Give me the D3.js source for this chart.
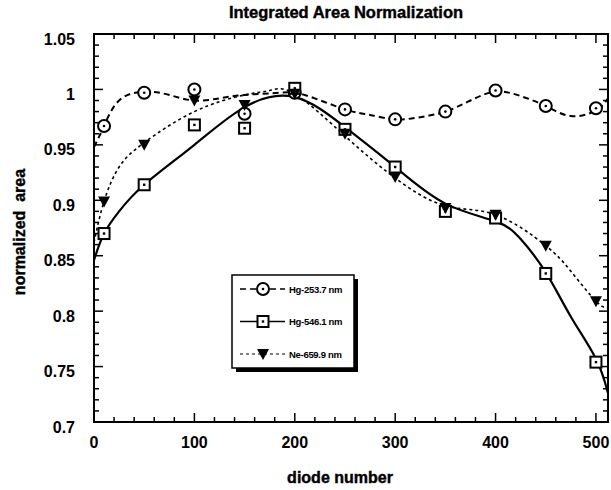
<!DOCTYPE html>
<html lang="en">
<head>
<meta charset="utf-8">
<title>Integrated Area Normalization</title>
<script src="https://d3js.org/d3.v7.min.js"></script>
<style>
  body { margin: 0; background: #fff; }
  text { font-family: "Liberation Sans", Arial, sans-serif; font-weight: bold; fill: #000; }
</style>
</head>
<body>
<div id="chart"></div>
<script>
// measured points
const diode = [10, 50, 100, 150, 200, 250, 300, 350, 400, 450, 500];
const hg253 = [0.967, 0.997, 1.000, 0.978, 0.997, 0.982, 0.973, 0.980, 0.999, 0.985, 0.983];
const hg546 = [0.870, 0.914, 0.968, 0.965, 1.001, 0.964, 0.930, 0.890, 0.884, 0.834, 0.754];
const ne659 = [0.899, 0.950, 0.990, 0.986, 0.996, 0.960, 0.921, 0.893, 0.887, 0.859, 0.809];

// fitted curves
const fit253X = [0, 10, 25, 50, 75, 100, 125, 150, 185, 210, 250, 275, 300, 325, 350, 375, 400, 425, 450, 475, 500, 512];
const fit253Y = [0.948, 0.967, 0.990, 0.998, 0.995, 0.990, 0.992, 0.995, 0.997, 0.995, 0.982, 0.977, 0.973, 0.975, 0.980, 0.990, 0.998, 0.994, 0.985, 0.976, 0.981, 0.992];
const fit546X = [0, 10, 25, 50, 100, 150, 200, 250, 300, 350, 400, 425, 450, 475, 500, 512];
const fit546Y = [0.846, 0.870, 0.890, 0.914, 0.950, 0.984, 0.993, 0.966, 0.930, 0.897, 0.881, 0.865, 0.835, 0.795, 0.757, 0.726];
const fit659X = [0, 10, 25, 50, 100, 150, 175, 200, 250, 300, 350, 400, 450, 475, 500, 512];
const fit659Y = [0.862, 0.899, 0.930, 0.952, 0.980, 0.995, 0.999, 0.996, 0.958, 0.920, 0.895, 0.887, 0.859, 0.836, 0.809, 0.803];

const seriesNames = ["Hg-253.7 nm", "Hg-546.1 nm", "Ne-659.9 nm"];
const xTicks = [0, 100, 200, 300, 400, 500];
const yTicks = [0.7, 0.75, 0.8, 0.85, 0.9, 0.95, 1, 1.05];

const W = 611, H = 490;
const margin = {top: 34, right: 3, bottom: 68, left: 94};
const width = W - margin.left - margin.right,
      height = H - margin.top - margin.bottom;

const svg = d3.select("#chart").append("svg")
    .attr("width", W).attr("height", H);

const g = svg.append("g")
    .attr("transform", `translate(${margin.left},${margin.top})`);

const x = d3.scaleLinear().domain([0, 512]).range([0, width]);
const y = d3.scaleLinear().domain([0.7, 1.05]).range([height, 0]);

// ticks inward, all four sides
const xMinor = d3.range(0, 513, 20);
const yMinor = d3.range(70, 106).map(d => d / 100);

function xTickLen(d) { return d % 100 === 0 ? 9 : 5; }
function yTickLen(d) { return Math.round(d * 100) % 5 === 0 ? 9 : 5; }

g.selectAll(".xt").data(xMinor).join("line")
    .attr("x1", d => x(d)).attr("x2", d => x(d))
    .attr("y1", height).attr("y2", d => height - xTickLen(d))
    .attr("stroke", "#000").attr("stroke-width", 1.5);
g.selectAll(".xtt").data(xMinor).join("line")
    .attr("x1", d => x(d)).attr("x2", d => x(d))
    .attr("y1", 0).attr("y2", d => xTickLen(d))
    .attr("stroke", "#000").attr("stroke-width", 1.5);
g.selectAll(".yt").data(yMinor).join("line")
    .attr("y1", d => y(d)).attr("y2", d => y(d))
    .attr("x1", 0).attr("x2", d => yTickLen(d))
    .attr("stroke", "#000").attr("stroke-width", 1.5);
g.selectAll(".ytr").data(yMinor).join("line")
    .attr("y1", d => y(d)).attr("y2", d => y(d))
    .attr("x1", width).attr("x2", d => width - yTickLen(d))
    .attr("stroke", "#000").attr("stroke-width", 1.5);

// tick labels
g.selectAll(".xl").data(xTicks).join("text")
    .attr("x", d => x(d)).attr("y", height + 26)
    .attr("text-anchor", "middle").attr("font-size", 16)
    .text(d => d);
g.selectAll(".yl").data(yTicks).join("text")
    .attr("x", -19).attr("y", d => y(d) + 10.5)
    .attr("text-anchor", "end").attr("font-size", 16)
    .text(d => d);

// frame
g.append("rect").attr("width", width).attr("height", height)
    .attr("fill", "none").attr("stroke", "#000").attr("stroke-width", 2);

// curves
const line = d3.line().x(d => x(d[0])).y(d => y(d[1])).curve(d3.curveNatural);
const styles = [
  {dash: "6,4", w: 2},
  {dash: null, w: 2.2},
  {dash: "3,3", w: 1.6}
];
const fits = [d3.zip(fit253X, fit253Y), d3.zip(fit546X, fit546Y), d3.zip(fit659X, fit659Y)];

svg.append("clipPath").attr("id", "clip").append("rect")
    .attr("width", width).attr("height", height);

fits.forEach((f, i) => {
  g.append("path").datum(f)
      .attr("clip-path", "url(#clip)")
      .attr("d", line)
      .attr("fill", "none").attr("stroke", "#000")
      .attr("stroke-width", styles[i].w)
      .attr("stroke-dasharray", styles[i].dash);
});

// markers
function circleMark(sel, cx, cy) {
  sel.append("circle").attr("cx", cx).attr("cy", cy).attr("r", 6)
      .attr("fill", "#fff").attr("stroke", "#000").attr("stroke-width", 2);
  sel.append("circle").attr("cx", cx).attr("cy", cy).attr("r", 1.3).attr("fill", "#000");
}
function squareMark(sel, cx, cy) {
  sel.append("rect").attr("x", cx - 5.5).attr("y", cy - 5.5).attr("width", 11).attr("height", 11)
      .attr("fill", "#fff").attr("stroke", "#000").attr("stroke-width", 2);
  sel.append("rect").attr("x", cx - 1.2).attr("y", cy - 1.2).attr("width", 2.4).attr("height", 2.4).attr("fill", "#000");
}
function triMark(sel, cx, cy) {
  sel.append("path")
      .attr("d", `M${cx - 6},${cy - 5}L${cx + 6},${cy - 5}L${cx},${cy + 6}Z`)
      .attr("fill", "#000");
}
const markFns = [circleMark, squareMark, triMark];
const values = [hg253, hg546, ne659];

values.forEach((vals, i) => {
  const mg = g.append("g");
  diode.forEach((d, j) => markFns[i](mg, x(d), y(vals[j])));
});

// legend
const lg = svg.append("g").attr("transform", "translate(232,275)");
lg.append("rect").attr("x", 4).attr("y", 4).attr("width", 122).attr("height", 93).attr("fill", "#000");
lg.append("rect").attr("width", 122).attr("height", 93)
    .attr("fill", "#fff").attr("stroke", "#000").attr("stroke-width", 1.5);
seriesNames.forEach((name, i) => {
  const ry = 14 + i * 32.5;
  lg.append("line").attr("x1", 8).attr("x2", 53).attr("y1", ry).attr("y2", ry)
      .attr("stroke", "#000").attr("stroke-width", styles[i].w * 0.75)
      .attr("stroke-dasharray", styles[i].dash);
  markFns[i](lg, 31, ry);
  lg.append("text").attr("x", 57).attr("y", ry + 3.5)
      .attr("font-size", 9.5).attr("letter-spacing", -0.3).text(name);
});

// titles
svg.append("text").attr("x", 346).attr("y", 18)
    .attr("text-anchor", "middle").attr("font-size", 16.5)
    .attr("stroke", "#000").attr("stroke-width", 0.4)
    .text("Integrated Area Normalization");
svg.append("text").attr("x", 340).attr("y", 483)
    .attr("text-anchor", "middle").attr("font-size", 16)
    .attr("stroke", "#000").attr("stroke-width", 0.4)
    .text("diode number");
svg.append("text")
    .attr("transform", "translate(25,232) rotate(-90)")
    .attr("text-anchor", "middle").attr("font-size", 16)
    .attr("stroke", "#000").attr("stroke-width", 0.4)
    .style("white-space", "pre")
    .text("normalized  area");
</script>
</body>
</html>
